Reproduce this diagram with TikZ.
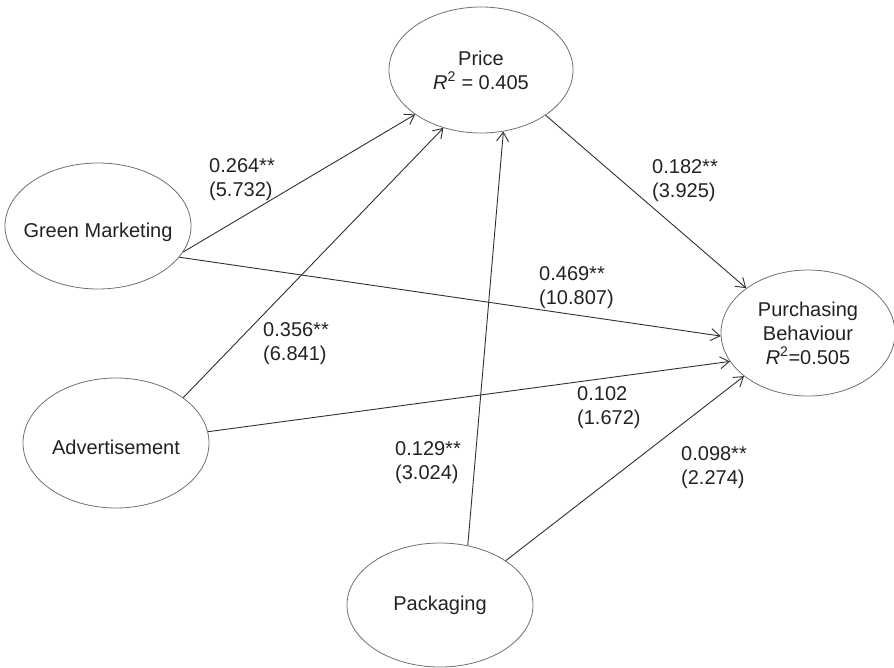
\documentclass[tikz,border=0pt]{standalone}
\usepackage{fontspec}
\setmainfont{Liberation Sans}
\usetikzlibrary{shapes.geometric,arrows.meta}
\definecolor{linec}{HTML}{303030}
\definecolor{ellc}{HTML}{707070}
\definecolor{txtc}{HTML}{222222}
\begin{document}
\begin{tikzpicture}[x=1pt,y=-1pt,
  every node/.style={font=\fontsize{20}{24}\selectfont, text=txtc},
  latent/.style={ellipse, draw=ellc, line width=0.8pt, inner xsep=-20pt, inner ysep=0pt, align=center},
  lowtext/.style={text height=23pt, text depth=0pt},
  pathc/.style={draw=linec, line width=0.9pt, -{Straight Barb[length=9pt,width=12pt]}},
  coef/.style={anchor=west, align=left, inner sep=0pt}]
\useasboundingbox (0,0) rectangle (894,667);
\node[latent, minimum width=184pt, minimum height=126pt] (price) at (481,70) {Price\\\textit{R}\textsuperscript{2} = 0.405};
\node[latent, lowtext, minimum width=186pt, minimum height=126pt] (gm) at (98,226) {Green Marketing};
\node[latent, lowtext, minimum width=186pt, minimum height=130pt] (adv) at (116,443) {Advertisement};
\node[latent, minimum width=186pt, minimum height=124pt] (pack) at (440,605) {Packaging};
\node[latent, minimum width=174pt, minimum height=126pt] (pb) at (808,333) {Purchasing\\Behaviour\\\textit{R}\textsuperscript{2}=0.505};

\draw[pathc] (gm.-17.8) -- (price.214.6);
\draw[pathc] (gm.-21.2) -- (pb.182.8);
\draw[pathc] (adv.34.9) -- (price.237.5);
\draw[pathc] (adv.7.8) -- (pb.200.3);
\draw[pathc] (pack.65.7) -- (price.-70.8);
\draw[pathc] (pack.34.5) -- (pb.214.3);
\draw[pathc] (price.-35.5) -- (pb.144.8);

\node[coef] (l1) at (209,180) {0.264**\\(5.732)};
\node[coef] (l2) at (263,344) {0.356**\\(6.841)};
\node[coef] (l3) at (395,463) {0.129**\\(3.024)};
\node[coef] (l4) at (539,288) {0.469**\\(10.807)};
\node[coef] (l5) at (577,408) {0.102\\(1.672)};
\node[coef] (l6) at (652,181) {0.182**\\(3.925)};
\node[coef] (l7) at (681,468) {0.098**\\(2.274)};
\end{tikzpicture}
\end{document}
